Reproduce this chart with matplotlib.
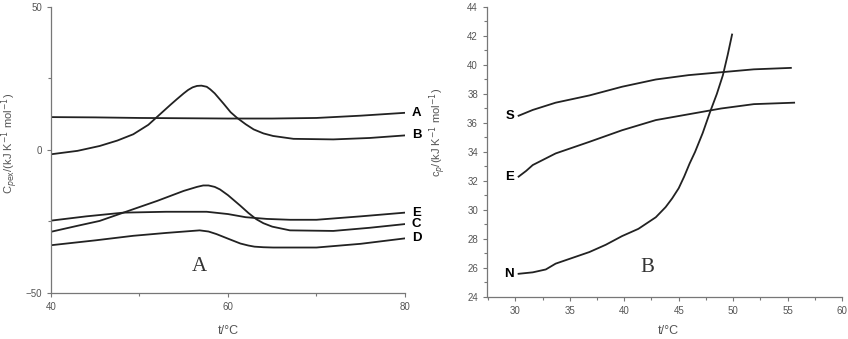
import matplotlib
matplotlib.use('Agg')
from matplotlib import pyplot as plt
from matplotlib.ticker import MultipleLocator

# panel A: excess heat capacity vs temperature
a_x = [40, 45, 50, 55, 60, 65, 70, 75, 80]
a_y = [11.5, 11.4, 11.2, 11.1, 11.0, 11.0, 11.2, 12.0, 13.0]

b_x = [40, 43, 45.5, 47.5, 49.3, 51, 52.5, 53.5, 54.2, 55, 55.5, 56, 56.5, 57, 57.6, 58, 58.5, 59.5, 60.3, 61,
       62, 62.9, 64, 65.1, 67.4, 71.9, 76, 80]
b_y = [-1.5, -0.3, 1.4, 3.3, 5.5, 8.8, 13.0, 15.8, 17.7, 19.8, 21.0, 21.9, 22.4, 22.5, 22.1, 21.2, 19.8, 16.2, 13.2, 11.3,
       9.0, 7.2, 5.8, 4.9, 3.9, 3.7, 4.2, 5.1]

c_x = [40, 43, 45.5, 49.3, 52, 55.0, 56.5, 57.2, 57.8, 58.5, 59.1, 60, 61.4, 62.3, 63.2, 64, 65, 67.0, 71.9, 76, 80]
c_y = [-28.6, -26.5, -24.8, -20.7, -17.8, -14.3, -12.9, -12.4, -12.4, -12.9, -13.8, -15.8, -19.5, -22.0, -24.2, -25.6,
       -26.8, -28.1, -28.3, -27.2, -25.9]

e_x = [40, 44, 48.2, 53, 57.6, 60, 62, 64.4, 67, 70, 75, 80]
e_y = [-24.7, -23.2, -21.9, -21.6, -21.6, -22.4, -23.5, -24.1, -24.4, -24.4, -23.2, -21.9]

d_x = [40, 45, 49.3, 53, 56.8, 57.8, 58.7, 60, 61.4, 62.3, 63, 64, 65.1, 70, 75, 80]
d_y = [-33.3, -31.6, -30.0, -29.0, -28.1, -28.5, -29.4, -31.0, -32.7, -33.4, -33.8, -34.0, -34.1, -34.1, -32.8, -30.9]

# panel B: heat capacity vs temperature
s2_x = [30.3, 31.6, 33.7, 36.8, 39.8, 42.9, 45.9, 48.9, 51.9, 55.3]
s2_y = [36.5, 36.9, 37.4, 37.9, 38.5, 39.0, 39.3, 39.5, 39.7, 39.8]

e2_x = [30.3, 31.0, 31.6, 33.7, 36.8, 39.8, 42.9, 45.9, 48.9, 51.9, 55.6]
e2_y = [32.3, 32.7, 33.1, 33.9, 34.7, 35.5, 36.2, 36.6, 37.0, 37.3, 37.4]

n2_x = [30.3, 31.6, 32.8, 33.7, 36.8, 38.3, 39.8, 41.3, 42.9, 43.8, 44.4, 45.0, 45.5, 46.0, 46.5, 47.2, 47.9, 48.5,
        49.06, 49.5, 49.9]
n2_y = [25.6, 25.7, 25.9, 26.3, 27.1, 27.6, 28.2, 28.7, 29.5, 30.2, 30.8, 31.5, 32.3, 33.2, 34.0, 35.3, 36.8, 38.0,
        39.3, 40.7, 42.1]

GRAY = '#777777'
TXT = '#555555'
LINE = '#222222'


def style_axes(ax):
    for s in ('top', 'right'):
        ax.spines[s].set_visible(False)
    for s in ('left', 'bottom'):
        ax.spines[s].set_color(GRAY)
        ax.spines[s].set_linewidth(0.9)
    ax.tick_params(which='both', direction='out', colors=GRAY, labelcolor=TXT,
                   labelsize=7, width=0.8)
    ax.tick_params(which='major', length=3)
    ax.tick_params(which='minor', length=2)
    for lab in ax.get_xticklabels() + ax.get_yticklabels():
        lab.set_family('Liberation Sans')


fig = plt.figure(figsize=(8.48, 3.39), dpi=100)

ax1 = fig.add_axes([0.0601, 0.1357, 0.4175, 0.8437])
for xs, ys in [(a_x, a_y), (b_x, b_y), (c_x, c_y), (e_x, e_y), (d_x, d_y)]:
    ax1.plot(xs, ys, color=LINE, lw=1.3, solid_joinstyle='round')
ax1.set_xlim(40, 80)
ax1.set_ylim(-50, 50)
ax1.xaxis.set_major_locator(MultipleLocator(20))
ax1.xaxis.set_minor_locator(MultipleLocator(10))
ax1.yaxis.set_major_locator(MultipleLocator(50))
ax1.yaxis.set_minor_locator(MultipleLocator(25))
style_axes(ax1)
for name, yy in [('A', a_y[-1]), ('B', b_y[-1]), ('E', e_y[-1]), ('C', c_y[-1]), ('D', d_y[-1])]:
    ax1.annotate(name, (80, yy), xytext=(5, 0), textcoords='offset points',
                 ha='left', va='center', fontsize=9.5, fontweight='bold',
                 family='Liberation Sans', annotation_clip=False)
ax1.text(56.8, -40.6, 'A', ha='center', va='center', fontsize=15,
         family='Liberation Serif', color='#333333')

ax2 = fig.add_axes([0.5743, 0.1239, 0.4187, 0.8555])
for xs, ys in [(s2_x, s2_y), (e2_x, e2_y), (n2_x, n2_y)]:
    ax2.plot(xs, ys, color=LINE, lw=1.3, solid_joinstyle='round')
ax2.set_xlim(27.4, 60)
ax2.set_ylim(24, 44)
ax2.xaxis.set_major_locator(MultipleLocator(5))
ax2.xaxis.set_minor_locator(MultipleLocator(2.5))
ax2.yaxis.set_major_locator(MultipleLocator(2))
ax2.yaxis.set_minor_locator(MultipleLocator(1))
style_axes(ax2)
for name, yy in [('S', s2_y[0]), ('E', e2_y[0]), ('N', n2_y[0])]:
    ax2.text(29.9, yy, name, ha='right', va='center', fontsize=9.5,
             fontweight='bold', family='Liberation Sans')
ax2.text(42.1, 26.0, 'B', ha='center', va='center', fontsize=15,
         family='Liberation Serif', color='#333333')

fig.text(0.011, 0.578, r'C$_{p\mathrm{ex}}$/(kJ K$^{-1}$ mol$^{-1}$)', rotation=90,
         ha='center', va='center', fontsize=8, color=TXT, family='Liberation Sans')
fig.text(0.516, 0.61, r'c$_p$/(kJ K$^{-1}$ mol$^{-1}$)', rotation=90,
         ha='center', va='center', fontsize=8, color=TXT, family='Liberation Sans')
fig.text(0.269, 0.024, 't/°C', ha='center', va='center', fontsize=9,
         color=TXT, family='Liberation Sans')
fig.text(0.788, 0.024, 't/°C', ha='center', va='center', fontsize=9,
         color=TXT, family='Liberation Sans')

fig.savefig('out.png', dpi=100)
